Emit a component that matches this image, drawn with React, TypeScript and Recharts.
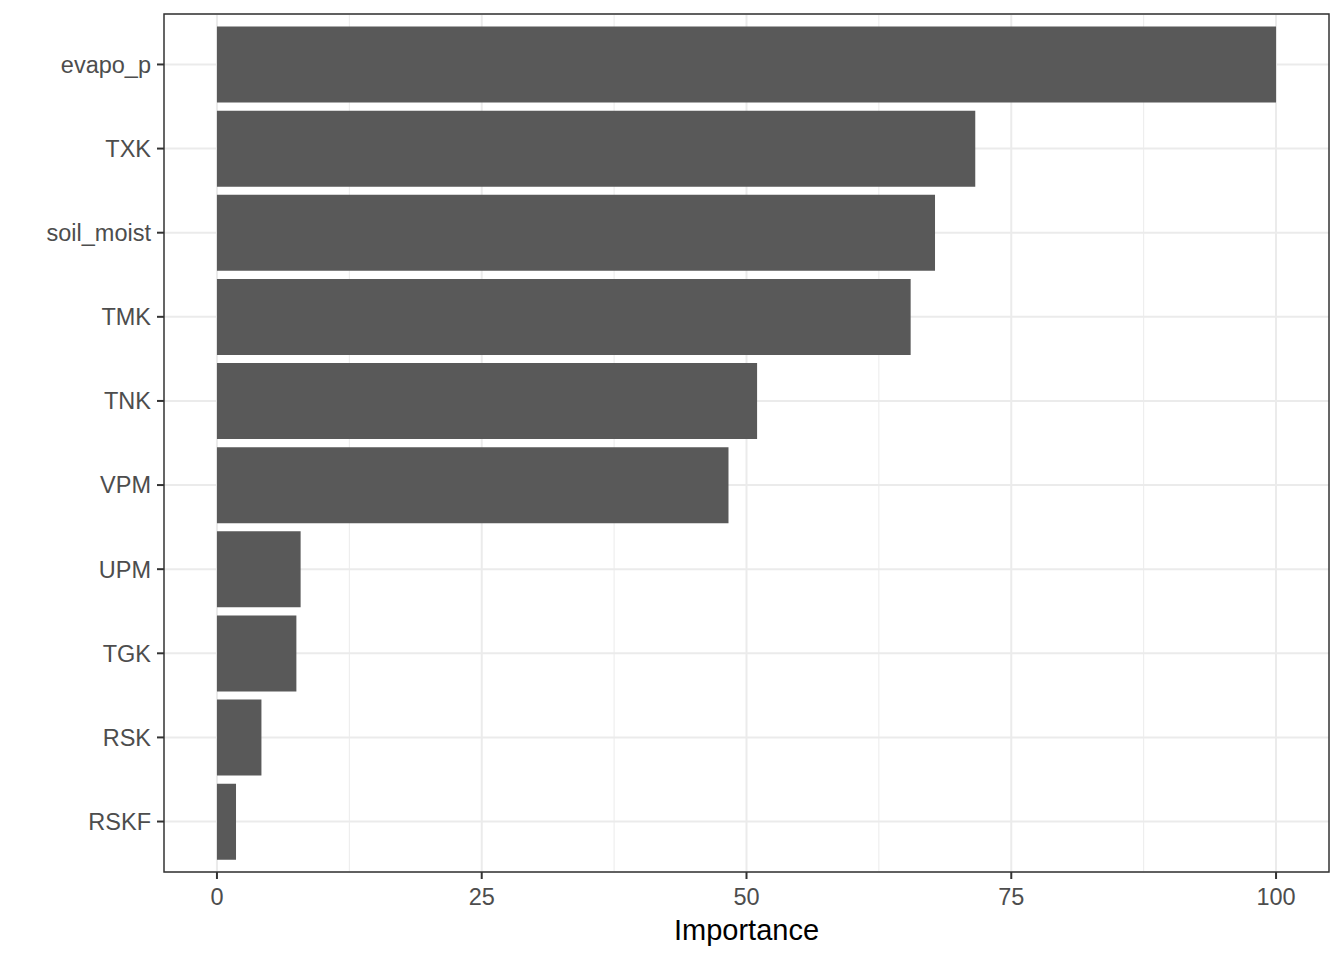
import { BarChart, Bar, XAxis, YAxis, CartesianGrid, usePlotArea } from "recharts";

const features = ["evapo_p", "TXK", "soil_moist", "TMK", "TNK", "VPM", "UPM", "TGK", "RSK", "RSKF"];
const importance = [100, 71.6, 67.8, 65.5, 51.0, 48.3, 7.9, 7.5, 4.2, 1.8];
const majorTicks = [0, 25, 50, 75, 100];
const minorTicks = [12.5, 37.5, 62.5, 87.5];

const data = features.map((name, i) => ({ name, value: importance[i] }));

const FONT = "'Liberation Sans', Arial, sans-serif";
const tickStyle = { fill: "#4D4D4D", fontSize: 23.5, fontFamily: FONT };

function XTitle(props: any) {
    const vb = props.viewBox;
    return (
        <text
            x={vb.x + vb.width / 2}
            y={vb.y + 68}
            textAnchor="middle"
            fill="#000000"
            fontSize={29}
            fontFamily={FONT}
        >
            Importance
        </text>
    );
}

// panel border like theme_bw
function PanelBorder() {
    const area = usePlotArea();
    if (!area) return null;
    return (
        <rect
            x={area.x}
            y={area.y}
            width={area.width}
            height={area.height}
            fill="none"
            stroke="#333333"
            strokeWidth={1.5}
        />
    );
}

export default function App() {
    return (
        <div style={{ position: "absolute", left: 0, top: 0, background: "#fff" }}>
            <BarChart
                width={1344}
                height={960}
                data={data}
                layout="vertical"
                margin={{ top: 14, right: 15, bottom: 0, left: 0 }}
                barCategoryGap="5%"
            >
                <CartesianGrid
                    stroke="#EBEBEB"
                    strokeWidth={1}
                    horizontal={false}
                    verticalValues={minorTicks}
                />
                <CartesianGrid stroke="#EBEBEB" strokeWidth={2} verticalValues={majorTicks} />
                <XAxis
                    type="number"
                    dataKey="value"
                    domain={[-5, 105]}
                    ticks={majorTicks}
                    allowDataOverflow
                    height={88}
                    tick={tickStyle}
                    tickSize={7}
                    tickMargin={9}
                    tickLine={{ stroke: "#333333", strokeWidth: 2 }}
                    axisLine={false}
                    label={<XTitle />}
                />
                <YAxis
                    type="category"
                    dataKey="name"
                    width={164}
                    padding={{ top: 8.4, bottom: 8.4 }}
                    tick={tickStyle}
                    tickSize={7}
                    tickMargin={6}
                    tickLine={{ stroke: "#333333", strokeWidth: 2 }}
                    axisLine={false}
                />
                <Bar dataKey="value" fill="#595959" isAnimationActive={false} />
                <PanelBorder />
            </BarChart>
        </div>
    );
}
